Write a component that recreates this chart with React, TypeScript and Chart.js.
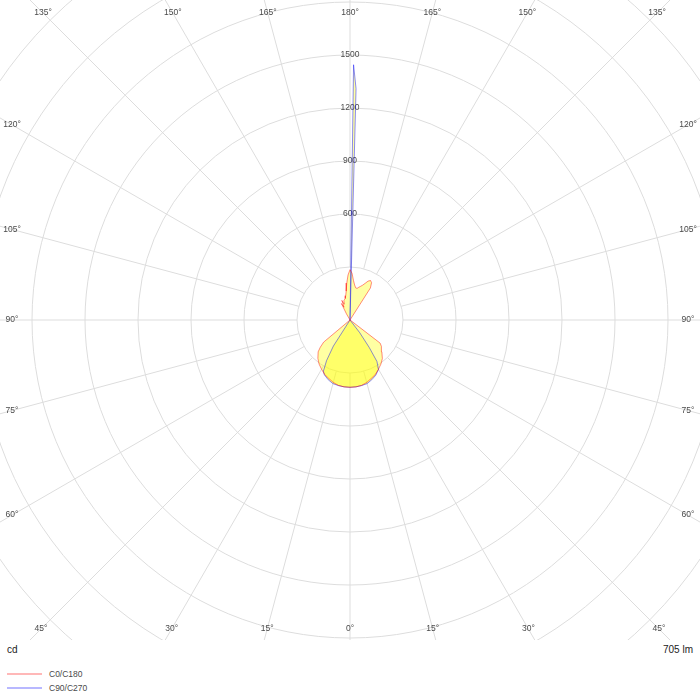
import { useEffect, useRef } from 'react'
import { Chart, ScatterController, LineElement, PointElement, LinearScale } from 'chart.js'

Chart.register(ScatterController, LineElement, PointElement, LinearScale)

// luminous intensity (cd) per gamma angle, one half-plane each
const c0Angles = [0, 5, 10, 15, 20, 25, 30, 35, 40, 45, 50, 52.5, 57.5, 90, 145, 147.5, 150, 152.5, 155, 157.5, 160, 162.5, 165, 167.5, 170, 172.5, 175, 177.5, 180]
const c0Values = [381, 380, 376, 366, 352, 340, 322, 305, 285, 255, 232, 215, 5, 0, 0, 215, 244, 252, 243, 225, 210, 200, 192, 183, 185, 200, 225, 265, 285]

const c180Angles = [0, 5, 10, 15, 20, 25, 30, 35, 40, 45, 47.5, 50, 52.5, 90, 147.5, 150, 152.5, 155, 157.5, 160, 162.5, 165, 167.5, 170, 172.5, 175, 177.5, 180]
const c180Values = [381, 380, 376, 366, 352, 340, 322, 305, 283, 255, 228, 195, 0, 0, 0, 40, 105, 80, 120, 95, 115, 120, 125, 140, 165, 210, 255, 285]

const c90Angles = [0, 5, 10, 15, 20, 25, 30, 33, 35, 37.5, 40, 90, 177, 178.5, 179.2, 180]
const c90Values = [381, 380, 377, 373, 360, 345, 323, 280, 190, 90, 0, 0, 0, 1310, 1445, 0]

const c270Angles = [0, 5, 10, 15, 20, 25, 27.5, 30, 32.5, 35, 90, 180]
const c270Values = [381, 380, 377, 373, 360, 343, 326, 265, 175, 0, 0, 0]

const seriesNames = ['C0/C180', 'C90/C270']
const lineColors = ['rgba(255,0,0,0.45)', 'rgba(0,0,255,0.45)']
const legendColors = ['rgba(255,0,0,0.28)', 'rgba(0,0,255,0.28)']
const fillColor = 'rgba(255,255,0,0.36)'

const spokeAngles = [0, 15, 30, 45, 60, 75, 90, 105, 120, 135, 150, 165, 180]
const radialTicks = [600, 900, 1200, 1500]
const ringStep = 300
const ringCount = 10
const fluxLabel = '705 lm'

// 300 cd = 53 px
const PX_PER_CD = 53 / 300
const W = 700
const H = 640

function toLoop(rightA: number[], rightV: number[], leftA: number[], leftV: number[]) {
  const pts: { x: number; y: number }[] = []
  rightA.forEach((a, i) => {
    const t = (a * Math.PI) / 180
    pts.push({ x: rightV[i] * Math.sin(t), y: -rightV[i] * Math.cos(t) })
  })
  for (let i = leftA.length - 1; i >= 0; i--) {
    const t = (leftA[i] * Math.PI) / 180
    pts.push({ x: -leftV[i] * Math.sin(t), y: -leftV[i] * Math.cos(t) })
  }
  return pts
}

const FONT = '"Liberation Sans", Arial, sans-serif'

const polarGrid = {
  id: 'polarGrid',
  beforeDatasetsDraw(chart: Chart) {
    const { ctx, chartArea: area } = chart
    const x = chart.scales.x
    const y = chart.scales.y
    const cx = x.getPixelForValue(0)
    const cy = y.getPixelForValue(0)
    const unit = x.getPixelForValue(ringStep) - cx

    ctx.save()
    ctx.beginPath()
    ctx.rect(area.left, area.top, area.right - area.left, area.bottom - area.top)
    ctx.clip()

    ctx.strokeStyle = '#dddddd'
    ctx.lineWidth = 1
    for (let k = 1; k <= ringCount; k++) {
      ctx.beginPath()
      ctx.arc(cx, cy, unit * k, 0, Math.PI * 2)
      ctx.stroke()
    }
    spokeAngles.forEach((a) => {
      const t = (a * Math.PI) / 180
      const sides = a === 0 || a === 180 ? [1] : [1, -1]
      sides.forEach((s) => {
        const dx = s * Math.sin(t)
        const dy = Math.cos(t)
        ctx.beginPath()
        ctx.moveTo(cx + dx * unit, cy + dy * unit)
        ctx.lineTo(cx + dx * unit * ringCount, cy + dy * unit * ringCount)
        ctx.stroke()
      })
    })

    // yellow fill inside each closed curve
    chart.data.datasets.forEach((_, i) => {
      const pts = chart.getDatasetMeta(i).data
      if (!pts.length) return
      ctx.beginPath()
      ctx.moveTo(pts[0].x, pts[0].y)
      for (let j = 1; j < pts.length; j++) ctx.lineTo(pts[j].x, pts[j].y)
      ctx.closePath()
      ctx.fillStyle = fillColor
      ctx.fill()
    })

    ctx.fillStyle = '#4a4a4a'
    ctx.font = `8.5px ${FONT}`
    ctx.textAlign = 'center'
    ctx.textBaseline = 'middle'

    // angle labels sit where each spoke meets an inset box
    const box = { l: area.left + 12, r: area.right - 12, t: area.top + 13, b: area.bottom - 11 }
    spokeAngles.forEach((a) => {
      const t = (a * Math.PI) / 180
      const sides = a === 0 || a === 180 ? [1] : [1, -1]
      sides.forEach((s) => {
        const dx = s * Math.sin(t)
        const dy = Math.cos(t)
        const hits: number[] = []
        if (dx > 1e-6) hits.push((box.r - cx) / dx)
        if (dx < -1e-6) hits.push((box.l - cx) / dx)
        if (dy > 1e-6) hits.push((box.b - cy) / dy)
        if (dy < -1e-6) hits.push((box.t - cy) / dy)
        const d = Math.min(...hits)
        ctx.fillText(`${a}°`, cx + dx * d, cy + dy * d)
      })
    })

    radialTicks.forEach((v) => {
      ctx.fillText(String(v), cx, y.getPixelForValue(v))
    })
    ctx.restore()
  },
}

function PolarChart() {
  const canvasRef = useRef<HTMLCanvasElement>(null)
  const chartRef = useRef<Chart | null>(null)

  useEffect(() => {
    if (!canvasRef.current) return
    if (chartRef.current) chartRef.current.destroy()

    const xMax = W / 2 / PX_PER_CD
    const yMax = H / 2 / PX_PER_CD

    chartRef.current = new Chart(canvasRef.current, {
      type: 'scatter',
      data: {
        datasets: [
          {
            label: seriesNames[0],
            data: toLoop(c0Angles, c0Values, c180Angles, c180Values),
            showLine: true,
            borderColor: lineColors[0],
            borderWidth: 1,
            pointRadius: 0,
            tension: 0,
          },
          {
            label: seriesNames[1],
            data: toLoop(c90Angles, c90Values, c270Angles, c270Values),
            showLine: true,
            borderColor: lineColors[1],
            borderWidth: 1,
            pointRadius: 0,
            tension: 0,
          },
        ],
      },
      options: {
        responsive: true,
        maintainAspectRatio: false,
        animation: false,
        events: [],
        layout: { padding: 0 },
        plugins: { legend: { display: false }, tooltip: { enabled: false } },
        scales: {
          x: { type: 'linear', min: -xMax, max: xMax, display: false },
          y: { type: 'linear', min: -yMax, max: yMax, display: false },
        },
      },
      plugins: [polarGrid],
    })

    return () => { chartRef.current?.destroy() }
  }, [])

  return <canvas ref={canvasRef} />
}

export default function App() {
  return (
    <div style={{ position: 'fixed', left: 0, top: 0, width: 700, height: 700, background: '#fff', fontFamily: FONT }}>
      <div style={{ position: 'absolute', left: 0, top: 0, width: W, height: H }}>
        <PolarChart />
      </div>
      <div style={{ position: 'absolute', left: 7, top: 643, fontSize: 10, lineHeight: '14px', color: '#222' }}>cd</div>
      <div style={{ position: 'absolute', right: 7, top: 643, fontSize: 10, lineHeight: '14px', color: '#222' }}>{fluxLabel}</div>
      {seriesNames.map((name, i) => (
        <div key={name} style={{ position: 'absolute', left: 7, top: 668 + i * 14, height: 12, display: 'flex', alignItems: 'center' }}>
          <div style={{ width: 35, height: 0, borderTop: `2px solid ${legendColors[i]}` }} />
          <span style={{ marginLeft: 7, fontSize: 8.5, color: '#4a4a4a' }}>{name}</span>
        </div>
      ))}
    </div>
  )
}
